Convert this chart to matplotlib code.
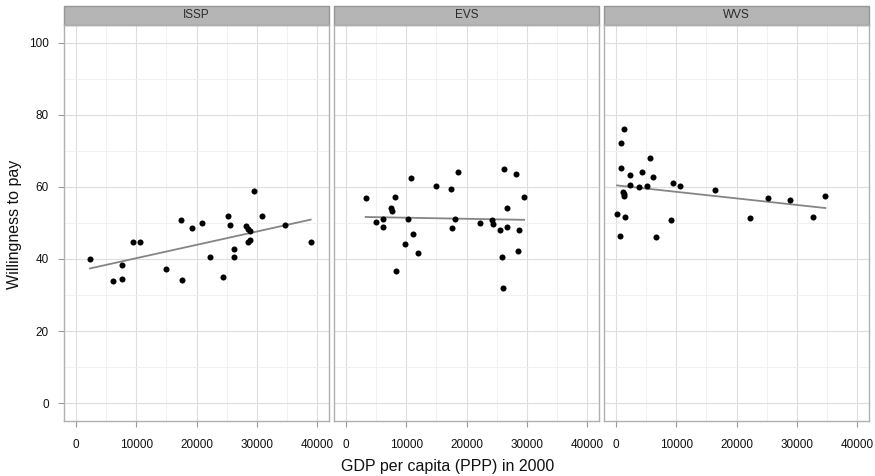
import numpy as np
import matplotlib
matplotlib.use("Agg")
import matplotlib.pyplot as plt
from matplotlib.patches import Rectangle
from matplotlib.ticker import MultipleLocator

plt.rcParams['font.family'] = ['Liberation Sans', 'DejaVu Sans']

panels = ["ISSP", "EVS", "WVS"]

issp_gdp = [2320, 6130, 7620, 7620, 9390, 10600, 14970, 17400, 17620, 19280, 20940,
            22270, 24420, 25190, 25640, 26240, 26240, 28230, 28560, 28840, 28560,
            28950, 29610, 30940, 34750, 38950]
issp_wtp = [40.1, 34.0, 34.5, 38.2, 44.6, 44.7, 37.3, 50.8, 34.1, 48.5, 50.0,
            40.6, 35.1, 52.0, 49.4, 42.8, 40.5, 49.1, 48.2, 47.8, 44.7,
            45.2, 58.9, 52.0, 49.4, 44.8]

evs_gdp = [3260, 4970, 6130, 6080, 7510, 7570, 8070, 8340, 9830, 10220, 10830,
           11160, 11930, 14970, 17350, 17620, 18120, 18560, 22210, 24310, 24360,
           25580, 25860, 26190, 26130, 26690, 26800, 28230, 28560, 28670, 29560]
evs_wtp = [56.9, 50.3, 51.2, 48.9, 54.1, 53.4, 57.2, 36.8, 44.1, 51.0, 62.5,
           46.9, 41.6, 60.2, 59.4, 48.6, 51.0, 64.3, 50.1, 50.9, 49.8,
           48.0, 40.5, 64.9, 32.0, 49.0, 54.3, 63.5, 42.2, 48.0, 57.2]

wvs_gdp = [170, 660, 770, 830, 1220, 1330, 1380, 1380, 1490, 2380, 2380,
           3810, 4360, 5080, 5690, 6190, 6570, 9170, 9450, 10610, 16460,
           22270, 25250, 28900, 32760, 34750]
wvs_wtp = [52.4, 46.4, 72.2, 65.2, 58.6, 58.1, 57.5, 76.1, 51.7, 63.3, 60.6,
           60.0, 64.3, 60.3, 68.1, 62.9, 46.1, 50.9, 61.2, 60.3, 59.1,
           51.5, 57.0, 56.5, 51.8, 57.5]

data = {"ISSP": (issp_gdp, issp_wtp), "EVS": (evs_gdp, evs_wtp), "WVS": (wvs_gdp, wvs_wtp)}

x_ticks = [0, 10000, 20000, 30000, 40000]
y_ticks = [0, 20, 40, 60, 80, 100]

W, H = 875, 476
fig = plt.figure(figsize=(W / 100, H / 100), dpi=100)

left0, right_end, gap = 64, 869, 5
pw = (right_end - left0 - 2 * gap) / 3
top, bottom = 25, 421
strip_h = 19

border_col = "#b0b0b0"
for i, name in enumerate(panels):
    lx = left0 + i * (pw + gap)
    ax = fig.add_axes([lx / W, 1 - bottom / H, pw / W, (bottom - top) / H])
    gx, wy = data[name]
    gx = np.asarray(gx, float)
    wy = np.asarray(wy, float)
    ax.set_xlim(-2000, 42000)
    ax.set_ylim(-5, 105)
    ax.set_xticks(x_ticks)
    ax.set_xticklabels([str(t) for t in x_ticks])
    ax.xaxis.set_minor_locator(MultipleLocator(5000))
    ax.yaxis.set_minor_locator(MultipleLocator(10))
    ax.set_yticks(y_ticks)
    ax.grid(True, which="major", color="#dedede", lw=0.8)
    ax.grid(True, which="minor", color="#efefef", lw=0.6)
    ax.set_axisbelow(True)
    ax.tick_params(axis="both", which="major", length=4, width=0.8, color="#999999",
                   labelsize=8.5, labelcolor="#111111")
    ax.tick_params(axis="x", pad=9)
    ax.tick_params(axis="y", pad=7)
    ax.tick_params(which="minor", length=0)
    if i > 0:
        ax.tick_params(axis="y", left=False, labelleft=False)
    for sp in ax.spines.values():
        sp.set_color(border_col)
        sp.set_linewidth(1.0)
    # fitted line
    b, a = np.polyfit(gx, wy, 1)
    xs = np.array([gx.min(), gx.max()])
    ax.plot(xs, a + b * xs, color="#858585", lw=1.3, zorder=2)
    ax.scatter(gx, wy, s=19, color="black", zorder=3, linewidths=0)
    # strip
    sh = strip_h / (bottom - top)
    ax.add_patch(Rectangle((0, 1), 1, sh, transform=ax.transAxes, clip_on=False,
                           facecolor="#b5b5b5", edgecolor="#969696", lw=1.0))
    ax.text(0.5, 1 + sh / 2, name, transform=ax.transAxes, ha="center", va="center",
            fontsize=8.5, color="#2a2a2a")

fig.text(448 / W, 1 - 466 / H, "GDP per capita (PPP) in 2000", ha="center", va="center",
         fontsize=11.5, color="#111111")
fig.text(15 / W, 1 - 224 / H, "Willingness to pay", ha="center", va="center",
         rotation=90, fontsize=11.5, color="#111111")

fig.savefig("out.png", dpi=100, facecolor="white")
